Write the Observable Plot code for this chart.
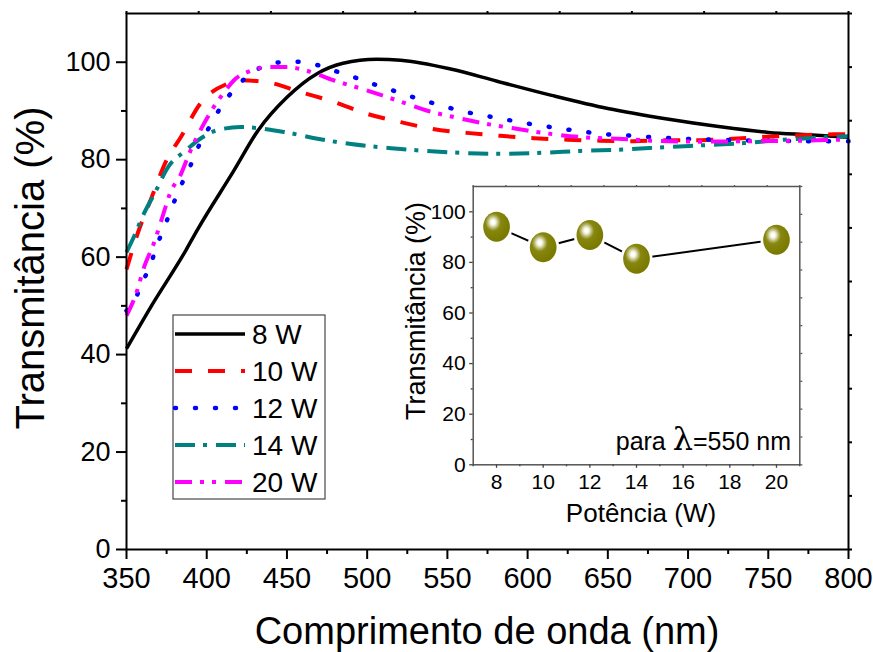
<!DOCTYPE html>
<html><head><meta charset="utf-8">
<script src="https://cdn.jsdelivr.net/npm/d3@7"></script>
<script src="https://cdn.jsdelivr.net/npm/@observablehq/plot@0.6"></script>
<style>
body{margin:0;background:#fff;}
#wrap{position:relative;width:873px;height:652px;font-family:"Liberation Sans",Arial,sans-serif;}
#wrap svg{display:block;}
#inset{position:absolute;left:380px;top:170px;}
</style></head><body><div id="wrap"><div id="main"></div><div id="inset"></div></div>
<script>
const FONT = '"Liberation Sans", Arial, sans-serif';

// ---- main chart data (wavelength nm, transmittance %) ----
const wl8 = [350, 365, 387, 394, 417, 432, 450, 469, 485, 506, 521, 552, 581, 615, 650, 688, 719, 750, 775, 800];
const t8  = [41.2, 49.7, 61.4, 65.5, 77.8, 86, 92.8, 97.7, 99.8, 100.6, 100.4, 98.6, 96.1, 93.2, 90.5, 88.3, 86.8, 85.6, 85.1, 84.6];

const wl10 = [350, 357, 365, 375, 384, 396, 413, 421, 438, 458, 479, 500, 521, 541, 562, 583, 604, 625, 645, 666, 687, 708, 728, 749, 770, 791, 800];
const t10  = [57.5, 64.9, 71.7, 79.9, 84.7, 91.5, 95.6, 96.3, 95.9, 93.9, 91.9, 89.4, 87.7, 86.3, 85.5, 84.9, 84.4, 84.1, 83.9, 83.8, 84, 84, 84.3, 84.7, 85, 85.2, 85.2];

const wl12 = [350, 354, 359, 365, 369, 374, 379, 384, 390, 395, 402, 409, 419, 429, 443, 456, 468, 480, 493, 505, 518, 530, 542, 554, 567, 579, 592, 604, 616, 629, 641, 653, 666, 678, 691, 703, 716, 728, 750, 775, 800];
const t12  = [49, 50.3, 54.2, 58.5, 62.4, 66.5, 70.8, 74.7, 78.9, 82.8, 86.9, 90.9, 95.1, 98, 99.9, 100.1, 99.5, 98.2, 96.8, 95.4, 94, 92.7, 91.5, 90.4, 89.4, 88.7, 87.9, 87.2, 86.6, 86, 85.5, 85.1, 84.9, 84.6, 84.4, 84.2, 84.1, 84, 83.9, 83.8, 83.8];

const wl14 = [350, 356, 359, 368, 376, 387, 396, 406, 421, 431, 448, 469, 490, 517, 552, 581, 608, 633, 660, 687, 712, 735, 760, 791, 800];
const t14  = [61, 65.2, 67.6, 73.4, 78.5, 81.9, 84.3, 86, 86.7, 86.5, 85.7, 84.3, 83.2, 82.3, 81.5, 81.2, 81.4, 81.8, 82.1, 82.6, 83, 83.4, 84.1, 84.7, 84.8];

const wl20 = [350, 356, 361, 367, 373, 377, 384, 389, 396, 403, 411, 417, 427, 438, 450, 463, 479, 496, 521, 537, 556, 577, 594, 614, 635, 656, 677, 708, 739, 770, 795, 800];
const t20  = [48, 52.5, 58, 62.8, 68.9, 73, 77.1, 81.2, 86, 90.1, 93.9, 96.3, 98.2, 99, 99, 98.2, 96.3, 94.6, 91.9, 90.1, 88.6, 87.2, 86.3, 85.3, 84.6, 84.3, 83.9, 83.7, 83.8, 83.9, 84.1, 84.1];

const seriesNames = ["8 W", "10 W", "12 W", "14 W", "20 W"];
const seriesColors = ["#000000", "#ff0000", "#0000ff", "#008080", "#ff00ff"];

// ---- tick values ----
const xMajor = [350, 400, 450, 500, 550, 600, 650, 700, 750, 800];
const xMinor = [375, 425, 475, 525, 575, 625, 675, 725, 775];
const yMajor = [0, 20, 40, 60, 80, 100];
const yMinor = [10, 30, 50, 70, 90];
const xMirror = [350, 395, 440, 485, 530, 575, 620, 665, 710, 755, 800];
const yMirror = [0, 11, 22, 33, 44, 55, 66, 77, 88, 99, 110];

// ---- inset data ----
const power = [8, 10, 12, 14, 20];
const transAt550 = [94.1, 86, 90.8, 81.4, 89];
const insetXMajor = [8, 10, 12, 14, 16, 18, 20];
const insetXMinor = [7, 9, 11, 13, 15, 17, 19, 21];
const insetYMajor = [0, 20, 40, 60, 80, 100];
const insetYMinor = [10, 30, 50, 70, 90];
const insetXMirror = [7, 8.4, 9.8, 11.2, 12.6, 14, 15.4, 16.8, 18.2, 19.6, 21];
const insetYMirror = [0, 11, 22, 33, 44, 55, 66, 77, 88, 99, 110];

// ---- styles ----
const styles = [
  {width: 3.5, dash: null, cap: "butt"},
  {width: 4, dash: "17,16", cap: "butt"},
  {width: 4.5, dash: "1,19", cap: "round"},
  {width: 4, dash: "20,8,4,9", cap: "butt"},
  {width: 4, dash: "17,8,4,8,4,9", cap: "butt"}
];
const wls = [wl8, wl10, wl12, wl14, wl20];
const ts = [t8, t10, t12, t14, t20];
const series = seriesNames.map((name, i) => ({
  name, color: seriesColors[i], ...styles[i],
  data: wls[i].map((w, j) => ({wl: w, t: ts[i][j]}))
}));

const main = Plot.plot({
  width: 873, height: 652,
  marginLeft: 126, marginRight: 25, marginTop: 13, marginBottom: 103,
  x: {domain: [350, 800]},
  y: {domain: [0, 110]},
  style: {fontFamily: FONT, color: "black", background: "transparent", overflow: "visible"},
  marks: [
    ...series.map(s => Plot.line(s.data, {
      x: "wl", y: "t", stroke: s.color, strokeWidth: s.width,
      strokeDasharray: s.dash, strokeLinecap: s.cap, curve: "monotone-x"
    })),
    Plot.frame({stroke: "black", strokeWidth: 2}),
    Plot.axisX({ticks: xMajor, tickSize: 10, tickPadding: 8, fontSize: 29, strokeWidth: 2, label: null}),
    Plot.axisX({ticks: xMinor, tickSize: 5, tickFormat: () => "", strokeWidth: 2, label: null}),
    Plot.axisY({ticks: yMajor, tickSize: 10, tickPadding: 6, fontSize: 27, strokeWidth: 2, label: null}),
    Plot.axisY({ticks: yMinor, tickSize: 5, tickFormat: () => "", strokeWidth: 2, label: null}),
    Plot.axisX({anchor: "top", ticks: xMirror, tickSize: 3, tickFormat: () => "", strokeWidth: 2, label: null}),
    Plot.axisY({anchor: "right", ticks: yMirror, tickSize: 3, tickFormat: () => "", strokeWidth: 2, label: null})
  ]
});
document.getElementById("main").appendChild(main);

const msvg = d3.select(main);
msvg.append("text").attr("x", 487).attr("y", 644).attr("text-anchor", "middle")
  .attr("font-size", 38).attr("fill", "black").style("font-family", FONT).text("Comprimento de onda (nm)");
msvg.append("text").attr("transform", "translate(44,268) rotate(-90)").attr("text-anchor", "middle")
  .attr("font-size", 40).attr("fill", "black").style("font-family", FONT).text("Transmitância (%)");

// legend
const lg = msvg.append("g");
lg.append("rect").attr("x", 173).attr("y", 315).attr("width", 152).attr("height", 184)
  .attr("fill", "white").attr("stroke", "#555").attr("stroke-width", 1.3);
series.forEach((s, i) => {
  const yy = 334 + i * 37;
  lg.append("line").attr("x1", 175).attr("x2", 245).attr("y1", yy).attr("y2", yy)
    .attr("stroke", s.color).attr("stroke-width", s.width)
    .attr("stroke-dasharray", s.dash).attr("stroke-linecap", s.cap);
  lg.append("text").attr("x", 252).attr("y", yy).attr("dy", "0.36em").attr("font-size", 28)
    .attr("text-anchor", "start")
    .attr("fill", "black").style("font-family", FONT).text(s.name);
});

// ---- inset ----
const ellipse = {
  draw(ctx, size) {
    const r = Math.sqrt(size / Math.PI), rx = r * 0.89, ry = r, k = 0.5523;
    ctx.moveTo(rx, 0);
    ctx.bezierCurveTo(rx, ry * k, rx * k, ry, 0, ry);
    ctx.bezierCurveTo(-rx * k, ry, -rx, ry * k, -rx, 0);
    ctx.bezierCurveTo(-rx, -ry * k, -rx * k, -ry, 0, -ry);
    ctx.bezierCurveTo(rx * k, -ry, rx, -ry * k, rx, 0);
    ctx.closePath();
  }
};
const insetData = power.map((p, i) => ({p, t: transAt550[i]}));
const defsMark = () => {
  const ns = "http://www.w3.org/2000/svg";
  const defs = document.createElementNS(ns, "defs");
  defs.innerHTML = `<radialGradient id="ball" cx="0.37" cy="0.35" r="0.62">
    <stop offset="0" stop-color="#ffffff"/>
    <stop offset="0.1" stop-color="#ffffff"/>
    <stop offset="0.2" stop-color="#e6e6c4"/>
    <stop offset="0.33" stop-color="#b4b46a"/>
    <stop offset="0.47" stop-color="#878710"/>
    <stop offset="1" stop-color="#7a7a00"/>
  </radialGradient>`;
  return defs;
};

const inset = Plot.plot({
  width: 430, height: 360,
  marginLeft: 92.7, marginRight: 10.7, marginTop: 16, marginBottom: 65.7,
  x: {domain: [7, 21]},
  y: {domain: [0, 110]},
  style: {fontFamily: FONT, color: "black", background: "transparent", overflow: "visible"},
  marks: [
    defsMark,
    Plot.line(insetData, {x: "p", y: "t", stroke: "black", strokeWidth: 2}),
    Plot.dot(insetData, {x: "p", y: "t", r: 18, symbol: ellipse, fill: "white", stroke: "none"}),
    Plot.dot(insetData, {x: "p", y: "t", r: 15, symbol: ellipse, fill: "url(#ball)", stroke: "none"}),
    Plot.frame({stroke: "#555", strokeWidth: 1.5}),
    Plot.axisX({ticks: insetXMajor, tickSize: 3.5, tickPadding: 6, fontSize: 21, strokeWidth: 1.3, stroke: "#444", label: null}),
    Plot.axisX({ticks: insetXMinor, tickSize: 2, tickFormat: () => "", strokeWidth: 1.3, stroke: "#444", label: null}),
    Plot.axisY({ticks: insetYMajor, tickSize: 3.5, tickPadding: 4, fontSize: 21, strokeWidth: 1.3, stroke: "#444", label: null}),
    Plot.axisY({ticks: insetYMinor, tickSize: 2, tickFormat: () => "", strokeWidth: 1.3, stroke: "#444", label: null}),
    Plot.axisX({anchor: "top", ticks: insetXMirror, tickSize: 2, tickFormat: () => "", strokeWidth: 1.3, stroke: "#555", label: null}),
    Plot.axisY({anchor: "right", ticks: insetYMirror, tickSize: 2, tickFormat: () => "", strokeWidth: 1.3, stroke: "#555", label: null})
  ]
});
document.getElementById("inset").appendChild(inset);
const isvg = d3.select(inset);
isvg.append("text").attr("x", 261).attr("y", 352).attr("text-anchor", "middle")
  .attr("font-size", 26).attr("fill", "black").style("font-family", FONT).text("Potência (W)");
isvg.append("text").attr("transform", "translate(45,141) rotate(-90)").attr("text-anchor", "middle")
  .attr("font-size", 27).attr("fill", "black").style("font-family", FONT).text("Transmitância (%)");
const note = isvg.append("text").attr("x", 411).attr("y", 279.6).attr("text-anchor", "end")
  .attr("font-size", 25).attr("fill", "black").style("font-family", FONT);
note.append("tspan").text("para ");
note.append("tspan").attr("font-size", 32).style("font-family", '"DejaVu Serif", serif').text("λ");
note.append("tspan").text("=550 nm");
</script>
</body></html>
